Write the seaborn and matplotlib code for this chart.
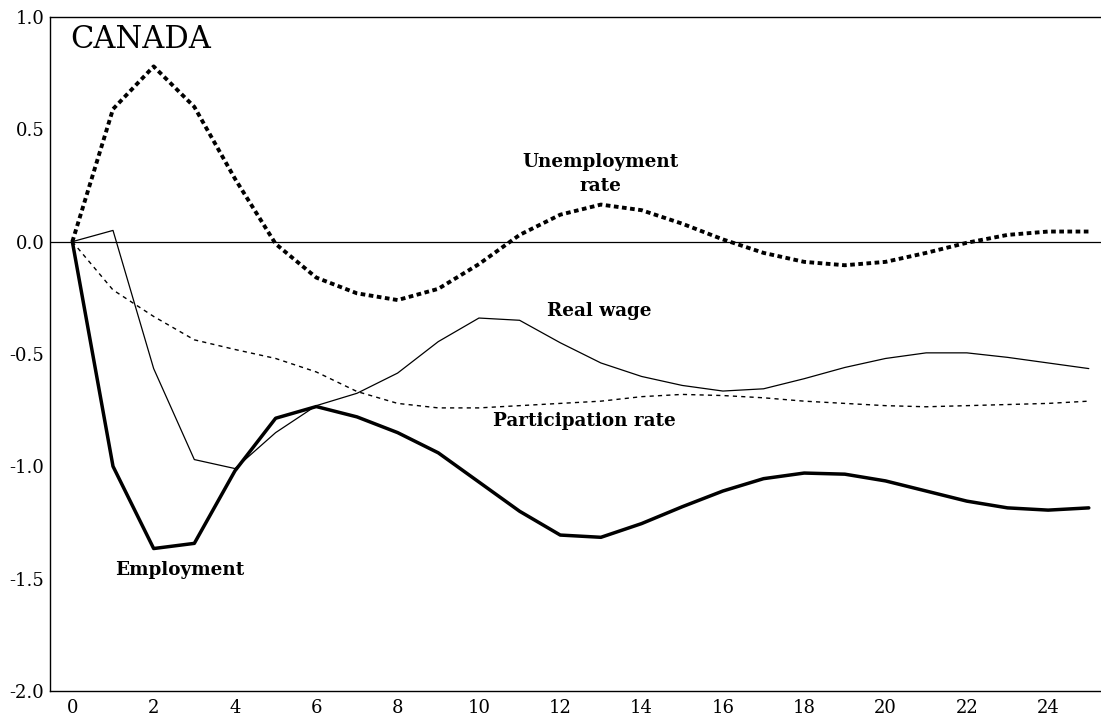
import numpy as np
import pandas as pd
import seaborn as sns
import matplotlib.pyplot as plt

# lags (quarters) and impulse responses
lags = list(range(26))
unemployment = [0.0, 0.59, 0.78, 0.60, 0.28, -0.01, -0.16, -0.23, -0.26, -0.21,
                -0.10, 0.03, 0.12, 0.165, 0.14, 0.08, 0.01, -0.05, -0.09, -0.105,
                -0.09, -0.05, -0.005, 0.03, 0.045, 0.045]
real_wage = [0.0, 0.05, -0.565, -0.97, -1.01, -0.85, -0.73, -0.675, -0.585, -0.445,
             -0.34, -0.35, -0.45, -0.54, -0.60, -0.64, -0.665, -0.655, -0.61, -0.56,
             -0.52, -0.495, -0.495, -0.515, -0.54, -0.565]
participation = [0.0, -0.215, -0.333, -0.437, -0.48, -0.52, -0.58, -0.667, -0.72, -0.74,
                  -0.74, -0.73, -0.72, -0.71, -0.69, -0.68, -0.685, -0.695, -0.71, -0.72,
                  -0.73, -0.735, -0.73, -0.725, -0.72, -0.71]
employment = [0.0, -1.0, -1.366, -1.343, -1.02, -0.786, -0.734, -0.78, -0.85, -0.94,
              -1.07, -1.2, -1.306, -1.316, -1.255, -1.18, -1.11, -1.055, -1.03, -1.035,
              -1.065, -1.11, -1.155, -1.185, -1.195, -1.185]

x_labels = list(range(0, 25, 2))
y_ticks = [-2.0, -1.5, -1.0, -0.5, 0.0, 0.5, 1.0]

df = pd.DataFrame({"lag": lags, "Unemployment": unemployment, "Real wage": real_wage,
                   "Participation": participation, "Employment": employment})

sns.set_style("white")
plt.rcParams["font.family"] = ["DejaVu Serif"]
plt.rcParams["text.color"] = "black"
plt.rcParams["xtick.color"] = "black"
plt.rcParams["ytick.color"] = "black"

fig = plt.figure(figsize=(11.01, 7.23), dpi=100)
ax = fig.add_axes([0.0454, 0.0443, 0.9546, 0.9322])

ax.axhline(0, color="black", lw=0.9, zorder=1)

sns.lineplot(data=df, x="lag", y="Employment", ax=ax, color="black", lw=2.5)
sns.lineplot(data=df, x="lag", y="Real wage", ax=ax, color="black", lw=0.9)
sns.lineplot(data=df, x="lag", y="Participation", ax=ax, color="black", lw=1.0,
             linestyle=(0, (3, 3)))
sns.lineplot(data=df, x="lag", y="Unemployment", ax=ax, color="black", lw=2.8,
             linestyle=(0, (1.2, 0.9)))

ax.set_xlim(-0.55, 25.3)
ax.set_ylim(-2.0, 1.0)
ax.set_xlabel("")
ax.set_ylabel("")

ax.set_xticks(x_labels)
ax.set_xticks(np.arange(0.5, 25, 1.0), minor=True)
ax.set_yticks(y_ticks)
ax.set_yticklabels([f"{v:.1f}" for v in y_ticks])
ax.tick_params(axis="x", which="major", length=0, labelsize=13, pad=6)
ax.tick_params(axis="x", which="minor", direction="in", length=5, width=1)
ax.tick_params(axis="y", direction="in", length=4, width=1, labelsize=13, pad=4)

for side in ["left", "bottom", "top"]:
    ax.spines[side].set_color("black")
    ax.spines[side].set_linewidth(1.0)
ax.spines["right"].set_visible(False)

lbl = dict(fontsize=13.2, fontweight="bold", ha="center", va="center")
ax.text(-0.05, 0.90, "CANADA", fontsize=22, va="center", ha="left")
ax.text(13.0, 0.30, "Unemployment\nrate", linespacing=1.4, **lbl)
ax.text(12.95, -0.31, "Real wage", **lbl)
ax.text(12.6, -0.80, "Participation rate", **lbl)
ax.text(2.65, -1.46, "Employment", **lbl)

plt.savefig("out.png", dpi=100)
